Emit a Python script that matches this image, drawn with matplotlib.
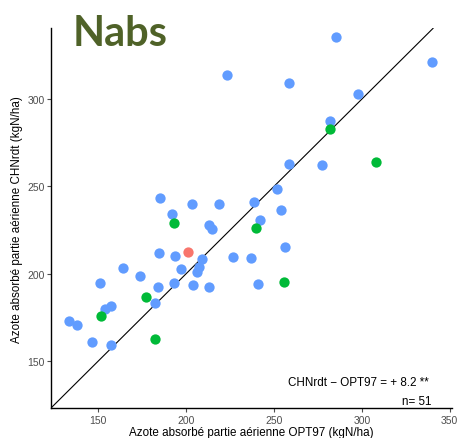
import matplotlib
matplotlib.use("Agg")
import matplotlib.pyplot as plt

# OPT97 (x) vs CHNrdt (y), kgN/ha
blue_x = [133.5, 138.2, 146.4, 157.2, 151.3, 153.6, 157.2, 164.2, 173.9, 182.4,
          184.3, 184.7, 185.4, 192.2, 193.8, 193.2, 197.3, 203.2, 203.8, 206.1,
          207.4, 209.3, 213.1, 214.8, 213.1, 218.9, 226.5, 236.8, 238.8, 240.7,
          242.0, 251.9, 254.0, 256.2, 258.7, 277.1, 282.0, 285.1, 223.1, 258.8,
          297.6, 339.9]
blue_y = [172.9, 170.5, 160.9, 159.2, 195.0, 179.6, 181.5, 203.4, 198.6, 183.4,
          192.6, 211.8, 243.6, 234.1, 210.1, 194.5, 202.5, 240.0, 193.3, 200.9,
          204.0, 208.2, 227.8, 225.7, 192.2, 240.0, 209.5, 208.9, 241.3, 193.9,
          231.0, 248.6, 236.6, 215.6, 262.9, 262.5, 287.6, 335.6, 313.9, 309.1,
          303.0, 321.1]
green_x = [151.5, 177.3, 182.2, 193.2, 239.8, 255.9, 282.0, 307.9]
green_y = [176.0, 186.6, 162.6, 229.3, 226.1, 195.2, 282.6, 264.0]
red_x = [201.3]
red_y = [212.6]

plt.rcParams["font.family"] = ["Liberation Sans", "DejaVu Sans"]

fig = plt.figure(figsize=(4.57, 4.39), dpi=100)
ax = fig.add_axes([0.111, 0.0677, 0.877, 0.8655])

ax.axline((0, 0), slope=1, color="black", lw=0.8, zorder=1)
ax.scatter(blue_x, blue_y, s=55, color="#619CFF", linewidths=0, zorder=2)
ax.scatter(green_x, green_y, s=55, color="#00BA38", linewidths=0, zorder=2)
ax.scatter(red_x, red_y, s=55, color="#F8766D", linewidths=0, zorder=2)

ax.set_xlim(123, 351)
ax.set_ylim(123, 340.5)
ax.set_xticks([150, 200, 250, 300, 350])
ax.set_yticks([150, 200, 250, 300])

for side in ["top", "right"]:
    ax.spines[side].set_visible(False)
for side in ["left", "bottom"]:
    ax.spines[side].set_linewidth(1.0)
    ax.spines[side].set_color("black")
ax.tick_params(length=3, width=0.8, color="#4D4D4D", labelcolor="#4D4D4D",
               labelsize=7.5, pad=1.5)

ax.set_xlabel("Azote absorbé partie aérienne OPT97 (kgN/ha)", fontsize=8.4, labelpad=1)
ax.set_ylabel("Azote absorbé partie aérienne CHNrdt (kgN/ha)", fontsize=8.4, labelpad=3)

ax.text(0.943, 0.069, "CHNrdt \u2212 OPT97 = + 8.2 **", transform=ax.transAxes,
        ha="right", va="center", fontsize=8.4)
ax.text(0.95, 0.02, "n= 51", transform=ax.transAxes,
        ha="right", va="center", fontsize=8.4)

fig.text(73 / 457, 1 - 46 / 439, "Nabs", fontsize=30, fontweight="bold",
         family="Lato", color="#4F6228", ha="left", va="baseline")

fig.savefig("out.png", dpi=100)
